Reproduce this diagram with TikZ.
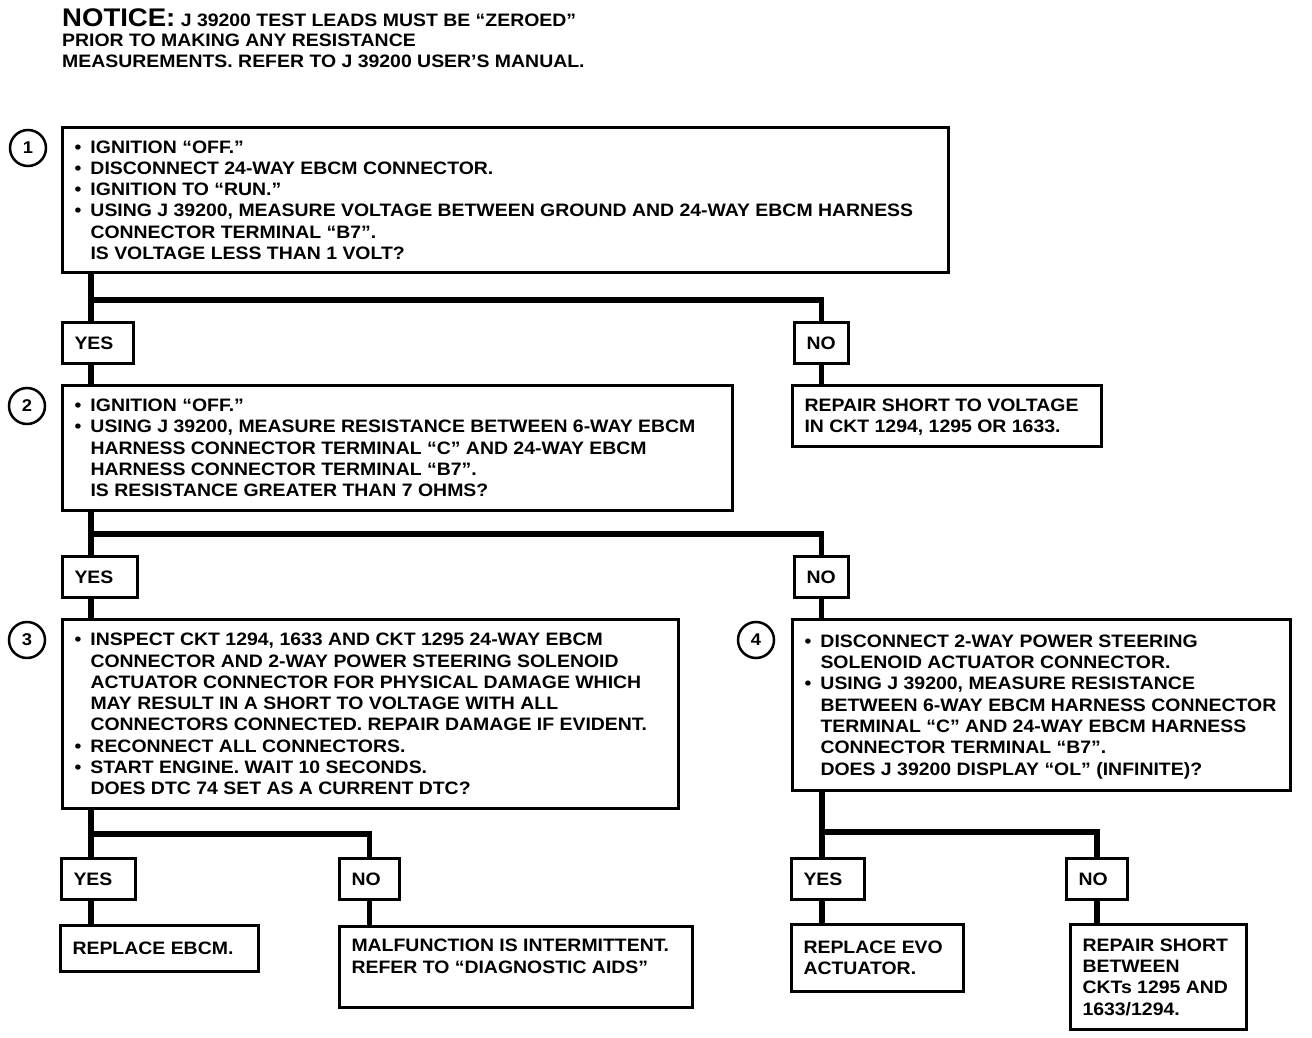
\documentclass[tikz,border=0pt]{standalone}
\usepackage{fontspec}
\setmainfont{Liberation Sans}[FakeStretch=1.08]
\usetikzlibrary{positioning,calc}

\newcommand{\fs}{\bfseries\fontsize{18}{21.3}\selectfont}
\newcommand{\itm}{\makebox[16pt][l]{•}}
\newcommand{\ind}{\hspace*{16pt}}
% left aligned lines in a box of given width, no wrapping
\newcommand{\tx}[2]{\raisebox{-2pt}[\height][\depth]{\makebox[#1][l]{\begin{tabular}{@{}l@{}}#2\end{tabular}}}}

\begin{document}
\begin{tikzpicture}[x=1pt, y=-1pt,
    box/.style={draw, line width=3pt, anchor=north west, inner xsep=12pt, inner ysep=0pt, font=\fs},
    ans/.style={box, minimum height=41pt},
    num/.style={circle, draw, line width=2.5pt, minimum size=36pt, inner sep=0pt, font=\bfseries\fontsize{17}{17}\selectfont},
    conn/.style={line width=5.5pt}
  ]
    \useasboundingbox (0,0) rectangle (1312,1038);

    \node[anchor=north west, align=left, inner sep=0pt, font=\bfseries\fontsize{18}{20.5}\selectfont] (notice) at (62,8)
      {{\fontsize{25.5}{25.5}\selectfont NOTICE:} J 39200 TEST LEADS MUST BE “ZEROED”\\
       PRIOR TO MAKING ANY RESISTANCE\\
       MEASUREMENTS. REFER TO J 39200 USER’S MANUAL.};

    % step 1
    \node[box, minimum height=145pt] (b1) at (61,126) {\tx{862pt}{%
       \itm IGNITION “OFF.”\\
       \itm DISCONNECT 24-WAY EBCM CONNECTOR.\\
       \itm IGNITION TO “RUN.”\\
       \itm USING J 39200, MEASURE VOLTAGE BETWEEN GROUND AND 24-WAY EBCM HARNESS\\
       \ind CONNECTOR TERMINAL “B7”.\\
       \ind IS VOLTAGE LESS THAN 1 VOLT?}};
    \node[num] (c1) at (28,148) {1};
    \node[ans] (yes1) at (61,321) {\tx{47pt}{YES}};
    \node[ans] (no1) at (793,321) {\tx{30pt}{NO}};
    \node[box, minimum height=61pt] (r1) at (791,384)
      {\tx{285pt}{REPAIR SHORT TO VOLTAGE\\ IN CKT 1294, 1295 OR 1633.}};

    % step 2
    \node[box, minimum height=125pt] (b2) at (61,384) {\tx{646pt}{%
       \itm IGNITION “OFF.”\\
       \itm USING J 39200, MEASURE RESISTANCE BETWEEN 6-WAY EBCM\\
       \ind HARNESS CONNECTOR TERMINAL “C” AND 24-WAY EBCM\\
       \ind HARNESS CONNECTOR TERMINAL “B7”.\\
       \ind IS RESISTANCE GREATER THAN 7 OHMS?}};
    \node[num] (c2) at (27,406) {2};
    \node[ans] (yes2) at (61,555) {\tx{51pt}{YES}};
    \node[ans] (no2) at (793,555) {\tx{30pt}{NO}};

    % step 3
    \node[box, minimum height=189pt] (b3) at (61,618) {\tx{592pt}{%
       \itm INSPECT CKT 1294, 1633 AND CKT 1295 24-WAY EBCM\\
       \ind CONNECTOR AND 2-WAY POWER STEERING SOLENOID\\
       \ind ACTUATOR CONNECTOR FOR PHYSICAL DAMAGE WHICH\\
       \ind MAY RESULT IN A SHORT TO VOLTAGE WITH ALL\\
       \ind CONNECTORS CONNECTED. REPAIR DAMAGE IF EVIDENT.\\
       \itm RECONNECT ALL CONNECTORS.\\
       \itm START ENGINE. WAIT 10 SECONDS.\\
       \ind DOES DTC 74 SET AS A CURRENT DTC?}};
    \node[num] (c3) at (27,640) {3};
    \node[ans] (yes3) at (60,857) {\tx{50pt}{YES}};
    \node[ans] (no3) at (338,857) {\tx{36pt}{NO}};
    \node[box, minimum height=46pt] (e1) at (59,924) {\tx{174pt}{REPLACE EBCM.}};
    \node[box, minimum height=81pt] (m1) at (338,925)
      {\tx{329pt}{MALFUNCTION IS INTERMITTENT.\\ REFER TO “DIAGNOSTIC AIDS”\\ \strut}};

    % step 4
    \node[box, minimum height=171pt] (b4) at (791,618) {\tx{474pt}{%
       \itm DISCONNECT 2-WAY POWER STEERING\\
       \ind SOLENOID ACTUATOR CONNECTOR.\\
       \itm USING J 39200, MEASURE RESISTANCE\\
       \ind BETWEEN 6-WAY EBCM HARNESS CONNECTOR\\
       \ind TERMINAL “C” AND 24-WAY EBCM HARNESS\\
       \ind CONNECTOR TERMINAL “B7”.\\
       \ind DOES J 39200 DISPLAY “OL” (INFINITE)?}};
    \node[num] (c4) at (756,640) {4};
    \node[ans] (yes4) at (790,857) {\tx{49pt}{YES}};
    \node[ans] (no4) at (1065,857) {\tx{37pt}{NO}};
    \node[box, minimum height=67pt] (e2) at (790,923) {\tx{148pt}{REPLACE EVO\\ ACTUATOR.}};
    \node[box, minimum height=105pt] (r2) at (1069,923)
      {\tx{152pt}{REPAIR SHORT\\ BETWEEN\\ CKTs 1295 AND\\ 1633/1294.}};

    % connectors
    \coordinate (t1) at ([xshift=30pt]b1.south west);
    \draw[conn] (t1) -- (t1 |- yes1.north);
    \draw[conn] (t1) ++(0,26) -| (no1.north);
    \draw[conn] (t1 |- yes1.south) -- (t1 |- b2.north);
    \draw[conn] (no1.south) -- (no1.south |- r1.north);

    \coordinate (t2) at ([xshift=30pt]b2.south west);
    \draw[conn] (t2) -- (t2 |- yes2.north);
    \draw[conn] (t2) ++(0,22) -| (no2.north);
    \draw[conn] (t2 |- yes2.south) -- (t2 |- b3.north);
    \draw[conn] (no2.south) -- (no2.south |- b4.north);

    \coordinate (t3) at ([xshift=30pt]b3.south west);
    \draw[conn] (t3) -- (t3 |- yes3.north);
    \draw[conn] (t3) ++(0,24) -| (no3.north);
    \draw[conn] (t3 |- yes3.south) -- (t3 |- e1.north);
    \draw[conn] (no3.south) -- (no3.south |- m1.north);

    \coordinate (t4) at ([xshift=31pt]b4.south west);
    \draw[conn] (t4) -- (t4 |- yes4.north);
    \draw[conn] (t4) ++(0,40) -| (no4.north);
    \draw[conn] (t4 |- yes4.south) -- (t4 |- e2.north);
    \draw[conn] (no4.south) -- (no4.south |- r2.north);
  \end{tikzpicture}
\end{document}
